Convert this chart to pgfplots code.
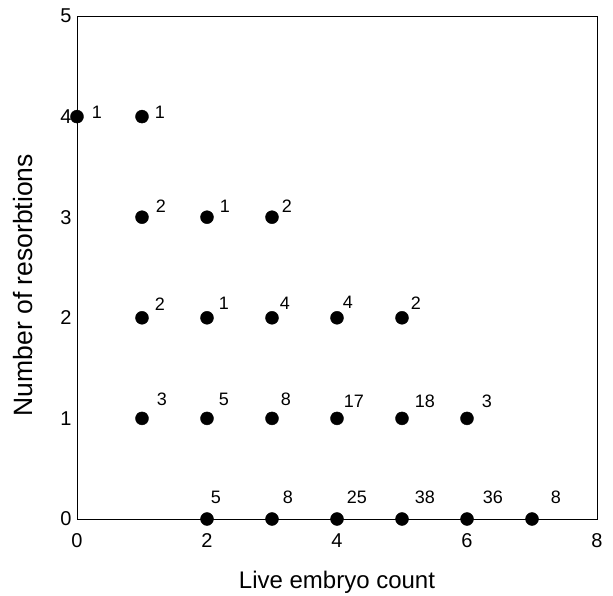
\documentclass[border=0pt]{standalone}
\usepackage{fontspec}
\setmainfont{Liberation Sans}
\usepackage{pgfplots}
\usepackage{pgfplotstable}
\pgfplotsset{compat=1.18}

% x = live embryos, y = resorptions, n = number of litters, dx/dy = label offset
\pgfplotstableread{
x y n dx dy
0 4 1 20 4
1 4 1 18 4
1 3 2 19 11
2 3 1 18 11
3 3 2 15 11
1 2 2 18 14
2 2 1 17 14
3 2 4 13 14
4 2 4 11 15
5 2 2 14 15
1 1 3 20 19
2 1 5 17 19
3 1 8 14 19
4 1 17 17 17
5 1 18 23 17
6 1 3 20 17
2 0 5 9 22
3 0 8 16 22
4 0 25 20 22
5 0 38 23 22
6 0 36 26 22
7 0 8 24 22
}\litters

\begin{document}
\begin{tikzpicture}
\begin{axis}[
    name=ax,
    scale only axis,
    width=520bp, height=503bp,
    xmin=0, xmax=8, ymin=0, ymax=5,
    xtick={0,2,4,6,8}, ytick={0,1,2,3,4,5},
    major tick length=0pt,
    axis line style={line width=0.8bp},
    clip=false,
    /pgf/number format/assume math mode=true,
    tick label style={font=\fontsize{20bp}{23bp}\selectfont},
    xticklabel style={yshift=-11bp},
    yticklabel style={xshift=-2bp},
    xlabel={Live embryo count},
    ylabel={Number of resorbtions},
    every axis x label/.style={at={(axis description cs:0.5,-0.125)},anchor=center,
        font=\fontsize{24bp}{28bp}\selectfont},
    every axis y label/.style={at={(axis description cs:-0.103,0.465)},rotate=90,anchor=center,
        font=\fontsize{26.5bp}{30bp}\selectfont},
]
\addplot[only marks, mark=*, mark size=6.5bp, black,
    point meta=explicit symbolic,
    visualization depends on={\thisrow{dx} \as \dx},
    visualization depends on={\thisrow{dy} \as \dy},
    nodes near coords,
    nodes near coords style={anchor=center, xshift=\dx*1bp, yshift=\dy*1bp,
        font=\fontsize{18bp}{21bp}\selectfont, text=black},
] table[x=x, y=y, meta=n] {\litters};
\end{axis}
\pgfresetboundingbox
\path[use as bounding box] (ax.south west) ++(-77bp,-77bp) rectangle ++(613bp,596bp);
\end{tikzpicture}
\end{document}
